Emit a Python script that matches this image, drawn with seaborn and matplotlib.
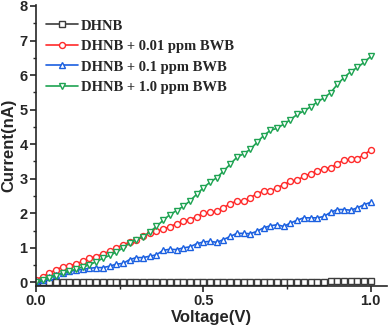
import numpy as np
import pandas as pd
import matplotlib
matplotlib.use("Agg")
import matplotlib.pyplot as plt
import seaborn as sns
from matplotlib.ticker import MultipleLocator

# datos (V de 0 a 1, paso 0.02)
voltaje = np.round(np.arange(0, 51) * 0.02, 2)

dhnb = [0.00, 0.00, 0.00, 0.00, 0.00, 0.00, 0.00, 0.00, 0.00, 0.00,
        0.01, 0.01, 0.01, 0.01, 0.01, 0.01, 0.01, 0.01, 0.01, 0.01,
        0.01, 0.01, 0.01, 0.01, 0.01, 0.01, 0.01, 0.01, 0.01, 0.01,
        0.02, 0.02, 0.02, 0.02, 0.02, 0.02, 0.02, 0.02, 0.02, 0.02,
        0.02, 0.02, 0.02, 0.02, 0.03, 0.03, 0.03, 0.03, 0.03, 0.03, 0.03]

bwb_001 = [0.08, 0.17, 0.27, 0.37, 0.45, 0.48, 0.54, 0.61, 0.71, 0.75,
           0.83, 0.90, 1.00, 1.09, 1.16, 1.24, 1.33, 1.42, 1.48, 1.55,
           1.61, 1.70, 1.77, 1.82, 1.90, 2.00, 2.03, 2.06, 2.16, 2.28,
           2.35, 2.35, 2.45, 2.57, 2.64, 2.64, 2.74, 2.83, 2.93, 2.96,
           3.07, 3.15, 3.22, 3.29, 3.32, 3.44, 3.54, 3.56, 3.58, 3.70, 3.83]

bwb_01 = [0.03, 0.08, 0.16, 0.22, 0.28, 0.32, 0.35, 0.38, 0.41, 0.43,
          0.43, 0.47, 0.53, 0.55, 0.66, 0.72, 0.72, 0.76, 0.80, 0.93,
          0.96, 0.95, 1.00, 1.03, 1.12, 1.17, 1.19, 1.16, 1.24, 1.33,
          1.42, 1.42, 1.41, 1.48, 1.58, 1.64, 1.67, 1.62, 1.72, 1.80,
          1.87, 1.87, 1.87, 1.91, 2.03, 2.11, 2.11, 2.09, 2.16, 2.25, 2.32]

bwb_10 = [0.00, 0.06, 0.13, 0.19, 0.27, 0.33, 0.38, 0.45, 0.51, 0.60,
          0.70, 0.78, 0.88, 1.00, 1.14, 1.24, 1.32, 1.46, 1.62, 1.80,
          1.96, 2.08, 2.20, 2.36, 2.55, 2.74, 2.90, 3.03, 3.22, 3.42,
          3.62, 3.72, 3.85, 4.05, 4.25, 4.40, 4.46, 4.58, 4.71, 4.86,
          4.96, 5.08, 5.22, 5.34, 5.49, 5.73, 5.93, 6.10, 6.22, 6.37, 6.54]

etiquetas = ["DHNB", "DHNB + 0.01 ppm BWB", "DHNB + 0.1 ppm BWB", "DHNB + 1.0 ppm BWB"]
series = [dhnb, bwb_001, bwb_01, bwb_10]
colores = ["#3c3c3c", "#ff2a2a", "#1a5fe0", "#1ea352"]
marcadores = ["s", "o", "^", "v"]

sns.set_style("ticks")
plt.rcParams["font.family"] = ["Liberation Sans", "DejaVu Sans"]

fig = plt.figure(figsize=(3.9, 3.29), dpi=100)
ax = fig.add_axes([0.092, 0.131, 0.9, 0.854])

for y, lab, col, mk in zip(series, etiquetas, colores, marcadores):
    df = pd.DataFrame({"voltaje": voltaje, "corriente": y})
    sns.lineplot(data=df, x="voltaje", y="corriente", ax=ax, color=col,
                 marker=mk, markersize=4.3, markerfacecolor="white",
                 markeredgecolor=col, markeredgewidth=1.0, linewidth=1.2,
                 label=lab)

ax.set_xlim(0, 1.048)
ax.set_ylim(-0.1, 8.03)
ax.xaxis.set_major_locator(MultipleLocator(0.5))
ax.xaxis.set_minor_locator(MultipleLocator(0.25))
ax.yaxis.set_major_locator(MultipleLocator(1))
ax.yaxis.set_minor_locator(MultipleLocator(0.5))
ax.xaxis.set_major_formatter(plt.FormatStrFormatter("%.1f"))

ax.tick_params(which="major", length=4, width=1.2, labelsize=10.5, pad=2)
ax.tick_params(which="minor", length=2.5, width=1.0)
for lbl in ax.get_xticklabels() + ax.get_yticklabels():
    lbl.set_fontweight("bold")

ax.set_xlabel("Voltage(V)", fontsize=12, fontweight="bold", labelpad=1)
ax.set_ylabel("Current(nA)", fontsize=12, fontweight="bold", labelpad=2)

sns.despine(ax=ax)
for lado in ["left", "bottom"]:
    ax.spines[lado].set_linewidth(1.2)

ax.legend(loc="upper left", bbox_to_anchor=(0.0, 0.985), frameon=False,
          prop={"family": ["Liberation Serif"], "weight": "bold", "size": 10.5},
          handlelength=2.2, handletextpad=0.2, labelspacing=0.5,
          borderaxespad=0.5, borderpad=0.2)

fig.savefig("out.png", dpi=100)
